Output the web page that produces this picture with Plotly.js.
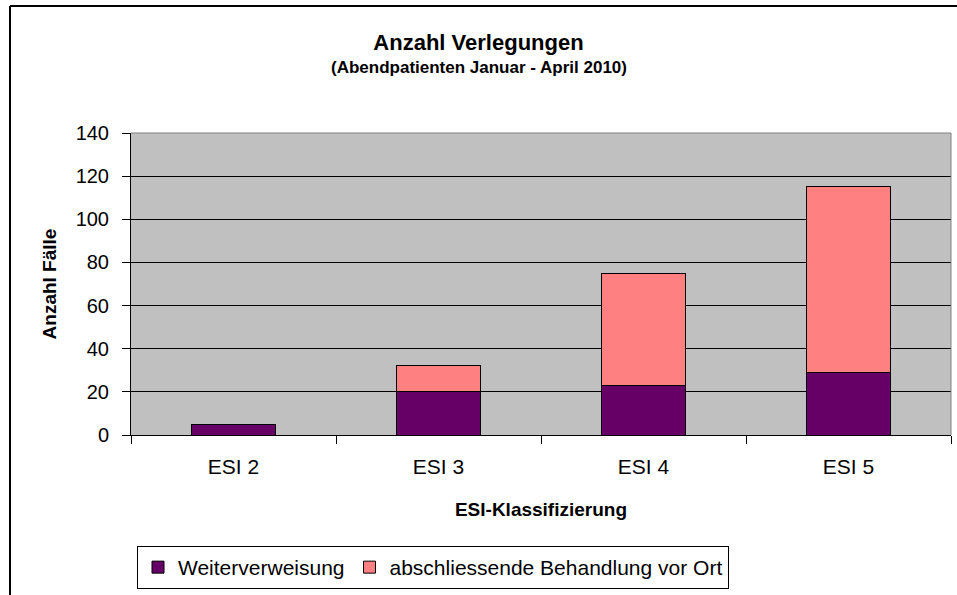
<!DOCTYPE html>
<html>
<head>
<meta charset="utf-8">
<script src="https://cdn.plot.ly/plotly-3.0.1.min.js"></script>
<style>html,body{margin:0;padding:0;background:#fff;}#chart{width:957px;height:595px;}</style>
</head>
<body>
<div id="chart"></div>
<script>
const categories = ["ESI 2", "ESI 3", "ESI 4", "ESI 5"];
const weiterverweisung = [5, 20, 23, 29];
const abschliessend = [0, 12, 52, 86];
const seriesNames = ["Weiterverweisung", "abschliessende Behandlung vor Ort"];
const yTicks = [0, 20, 40, 60, 80, 100, 120, 140];
const mainTitle = "Anzahl Verlegungen";
const subTitle = "(Abendpatienten Januar - April 2010)";

const font = "Arial, 'Liberation Sans', sans-serif";
const W = 957, H = 595, L = 131, R = 6, T = 133, B = 160;
const pw = W - L - R, ph = H - T - B;
const px = v => (v - L) / pw;
const py = v => (H - B - v) / ph;

const traces = [
  {type: "bar", name: seriesNames[0], x: categories, y: weiterverweisung,
   marker: {color: "#660066", line: {color: "#000", width: 1}}},
  {type: "bar", name: seriesNames[1], x: categories, y: abschliessend,
   marker: {color: "#FF8080", line: {color: "#000", width: 1}}}
];

const layout = {
  width: W, height: H,
  margin: {l: L, r: R, t: T, b: B, pad: 0},
  paper_bgcolor: "#fff", plot_bgcolor: "#C0C0C0",
  barmode: "stack", bargap: 0.594,
  font: {family: font, color: "#000", size: 20},
  title: {
    text: "<b>" + mainTitle + "</b>",
    font: {family: font, size: 22, color: "#000"},
    x: 0.5, xanchor: "center", y: 1 - 42 / H, yanchor: "middle"
  },
  annotations: [
    {text: "<b>" + subTitle + "</b>", xref: "paper", yref: "paper",
     x: px(478.5), y: py(68), xanchor: "center", yanchor: "middle",
     showarrow: false, font: {family: font, size: 17, color: "#000"}}
  ],
  xaxis: {
    type: "category",
    tickson: "boundaries", ticks: "outside", ticklen: 8, tickcolor: "#000", tickwidth: 1,
    ticklabelstandoff: 13,
    showline: true, linecolor: "#000", linewidth: 1,
    showgrid: false, zeroline: false,
    tickfont: {family: font, size: 21},
    title: {text: "<b>ESI-Klassifizierung</b>", font: {family: font, size: 19}, standoff: 25}
  },
  yaxis: {
    range: [0, 140], tickvals: yTicks, ticktext: yTicks.map(String),
    ticks: "outside", ticklen: 8, tickcolor: "#000", tickwidth: 1,
    ticklabelstandoff: 9,
    showline: true, linecolor: "#000", linewidth: 1,
    showgrid: true, gridcolor: "#000", gridwidth: 1, zeroline: false,
    tickfont: {family: font, size: 20},
    title: {text: "<b>Anzahl Fälle</b>", font: {family: font, size: 19}, standoff: 13}
  },
  legend: {
    orientation: "h", traceorder: "normal",
    x: px(137), xanchor: "left", y: py(546), yanchor: "top",
    bordercolor: "#000", borderwidth: 1, bgcolor: "#fff",
    font: {family: font, size: 21}, itemwidth: 30, tracegroupgap: 0
  },
  shapes: [
    {type: "line", xref: "paper", yref: "paper", x0: px(10), x1: px(1000), y0: py(6), y1: py(6), line: {color: "#000", width: 2}},
    {type: "line", xref: "paper", yref: "paper", x0: px(10), x1: px(10), y0: py(6), y1: py(700), line: {color: "#000", width: 2}},
    {type: "line", xref: "paper", yref: "paper", x0: 0, x1: 1, y0: 1, y1: 1, line: {color: "#808080", width: 1}},
    {type: "line", xref: "paper", yref: "paper", x0: 1, x1: 1, y0: 0, y1: 1, line: {color: "#808080", width: 1}}
  ]
};

Plotly.newPlot("chart", traces, layout, {displayModeBar: false, staticPlot: true});
</script>
</body>
</html>
